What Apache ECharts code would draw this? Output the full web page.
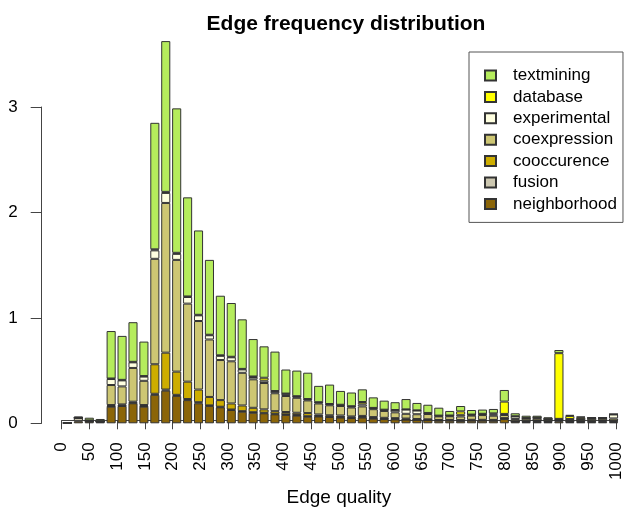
<!DOCTYPE html>
<html>
<head>
<meta charset="utf-8">
<script src="https://cdn.jsdelivr.net/npm/echarts@6/dist/echarts.min.js"></script>
<style>
html, body { margin: 0; padding: 0; background: #fff; }
#main { width: 625px; height: 512px; }
</style>
</head>
<body>
<div id="main"></div>
<script>
// quality bins (one bar each)
const bins = ['0', '20', '40', '60', '80', '100', '120', '140', '160', '180',
  '200', '220', '240', '260', '280', '300', '320', '340', '360', '380',
  '400', '420', '440', '460', '480', '500', '520', '540', '560', '580',
  '600', '620', '640', '660', '680', '700', '720', '740', '760', '780',
  '800', '820', '840', '860', '880', '900', '920', '940', '960', '980', '1000']

// stacked from the bottom up
const neighborhood = [0.002, 0.02, 0.015, 0.012, 0.158, 0.164, 0.19, 0.158, 0.27, 0.31,
  0.26, 0.22, 0.19, 0.165, 0.152, 0.126, 0.11, 0.1, 0.095, 0.085,
  0.08, 0.073, 0.063, 0.065, 0.06, 0.055, 0.05, 0.055, 0.045, 0.04,
  0.037, 0.035, 0.033, 0.03, 0.025, 0.025, 0.023, 0.025, 0.025, 0.024,
  0.04, 0.015, 0.012, 0.013, 0.012, 0.02, 0.012, 0.012, 0.012, 0.013, 0.012]
const fusion = [0.001, 0.03, 0.005, 0.004, 0.005, 0.005, 0.005, 0.005, 0.01, 0.01,
  0.01, 0.01, 0.01, 0.005, 0.005, 0.005, 0.005, 0.005, 0.005, 0.005,
  0.005, 0.005, 0.004, 0.004, 0.004, 0.004, 0.005, 0.005, 0.004, 0.004,
  0.004, 0.003, 0.003, 0.003, 0.003, 0.003, 0.003, 0.003, 0.003, 0.003,
  0.005, 0.003, 0.01, 0.012, 0.01, 0.008, 0.008, 0.01, 0.01, 0.012, 0.012]
const cooccurence = [0, 0, 0, 0, 0.01, 0.01, 0.01, 0.01, 0.28, 0.35,
  0.22, 0.165, 0.12, 0.08, 0.063, 0.057, 0.054, 0.042, 0.032, 0.025,
  0.022, 0.022, 0.03, 0.015, 0.012, 0.015, 0.01, 0.01, 0.01, 0.008,
  0.008, 0.007, 0.005, 0.005, 0.003, 0.004, 0.004, 0.005, 0.005, 0.005,
  0.004, 0.002, 0.002, 0.002, 0.002, 0.002, 0.002, 0.003, 0.003, 0.003, 0.002]
const coexpression = [0, 0.002, 0.005, 0.005, 0.19, 0.171, 0.32, 0.23, 1.0, 1.42,
  1.06, 0.74, 0.65, 0.545, 0.38, 0.4, 0.31, 0.27, 0.25, 0.17,
  0.152, 0.142, 0.12, 0.104, 0.095, 0.09, 0.085, 0.09, 0.075, 0.065,
  0.055, 0.045, 0.045, 0.05, 0.035, 0.035, 0.035, 0.04, 0.045, 0.04,
  0.03, 0.02, 0.02, 0.02, 0.015, 0.01, 0.013, 0.015, 0.018, 0.018, 0.02]
const experimental = [0, 0.003, 0.003, 0, 0.057, 0.057, 0.053, 0.04, 0.08, 0.095,
  0.057, 0.063, 0.054, 0.04, 0.04, 0.038, 0.032, 0.022, 0.022, 0.016,
  0.02, 0.012, 0.01, 0.01, 0.01, 0.01, 0.01, 0.02, 0.01, 0.01,
  0.02, 0.04, 0.035, 0.008, 0.005, 0.005, 0.016, 0.008, 0.01, 0.012,
  0.01, 0.025, 0.005, 0.005, 0.002, 0.002, 0.005, 0.002, 0.002, 0.002, 0.038]
const database = [0, 0, 0, 0, 0.005, 0.005, 0.005, 0.005, 0.01, 0.01,
  0.01, 0.005, 0.005, 0.005, 0.005, 0.005, 0.005, 0.005, 0.028, 0.005,
  0.003, 0.003, 0.003, 0.002, 0.002, 0.002, 0.002, 0.022, 0.002, 0.002,
  0.002, 0.002, 0.002, 0.002, 0.002, 0.002, 0.032, 0.002, 0.002, 0.01,
  0.117, 0.002, 0.002, 0.002, 0.002, 0.623, 0.03, 0.015, 0.008, 0.004, 0.002]
const textmining = [0, 0.008, 0.025, 0.02, 0.45, 0.417, 0.376, 0.327, 1.2, 1.43,
  1.37, 0.94, 0.8, 0.71, 0.565, 0.51, 0.47, 0.355, 0.298, 0.374,
  0.228, 0.243, 0.25, 0.155, 0.184, 0.131, 0.13, 0.12, 0.1, 0.086,
  0.074, 0.098, 0.07, 0.078, 0.075, 0.043, 0.051, 0.043, 0.04, 0.042,
  0.11, 0.028, 0.021, 0.018, 0.014, 0.03, 0.01, 0.006, 0.004, 0.002, 0.002]

const layers = [
  ['neighborhood', neighborhood, '#8B6508'],
  ['fusion', fusion, '#CDC8B1'],
  ['cooccurence', cooccurence, '#CDAD00'],
  ['coexpression', coexpression, '#CDC673'],
  ['experimental', experimental, '#FFFFE0'],
  ['database', database, '#FFFF00'],
  ['textmining', textmining, '#B5EC5C']
]

const font = 'Liberation Sans, Arial, sans-serif'
const axisColor = '#444'

const chart = echarts.init(document.getElementById('main'))

chart.setOption({
  animation: false,
  title: {
    text: 'Edge frequency distribution',
    left: 341,
    top: 9,
    textAlign: 'center',
    textStyle: { fontFamily: font, fontSize: 21, fontWeight: 'bold', color: '#000' }
  },
  legend: {
    orient: 'vertical',
    left: 469,
    top: 52,
    data: layers.map(l => l[0]).reverse(),
    icon: 'rect',
    itemWidth: 11,
    itemHeight: 10,
    itemGap: 4.4,
    padding: [15, 6, 10, 15],
    borderColor: '#555',
    borderWidth: 1,
    textStyle: { fontFamily: font, fontSize: 17, color: '#000', lineHeight: 17, padding: [0, 0, 0, 12] }
  },
  grid: [
    { left: 62, right: 6, top: 107, bottom: 88.7 },
    { left: 61.7, right: 9, top: 107, bottom: 88.7 }
  ],
  xAxis: [
    { type: 'category', gridIndex: 0, data: bins, show: false },
    {
      type: 'value', gridIndex: 1, position: 'bottom', min: 0, max: 1000, interval: 50,
      offset: 4.4,
      splitLine: { show: false },
      axisLine: { show: true, onZero: false, lineStyle: { color: axisColor, width: 1 } },
      axisTick: { show: true, length: 9, lineStyle: { color: axisColor } },
      axisLabel: {
        rotate: 90, margin: 22, fontFamily: font, fontSize: 17, color: '#000',
        formatter: v => String(v)
      },
      name: 'Edge quality',
      nameLocation: 'middle',
      nameGap: 64,
      nameTextStyle: { fontFamily: font, fontSize: 19, color: '#000' }
    }
  ],
  yAxis: [
    {
      type: 'value', gridIndex: 0, min: 0, max: 3, interval: 1,
      offset: 20.3,
      splitLine: { show: false },
      axisLine: { show: true, onZero: false, lineStyle: { color: axisColor, width: 1 } },
      axisTick: { show: true, length: 11, lineStyle: { color: axisColor } },
      axisLabel: { margin: 24, fontFamily: font, fontSize: 17, color: '#000' }
    },
    { type: 'value', gridIndex: 1, min: 0, max: 3, show: false }
  ],
  series: layers.map(([name, values, color]) => ({
    name: name,
    type: 'bar',
    stack: 'edges',
    xAxisIndex: 0,
    yAxisIndex: 0,
    data: values,
    barWidth: 9.1,
    clip: false,
    itemStyle: { color: color, borderColor: '#333', borderWidth: 1 }
  }))
})
</script>
</body>
</html>
